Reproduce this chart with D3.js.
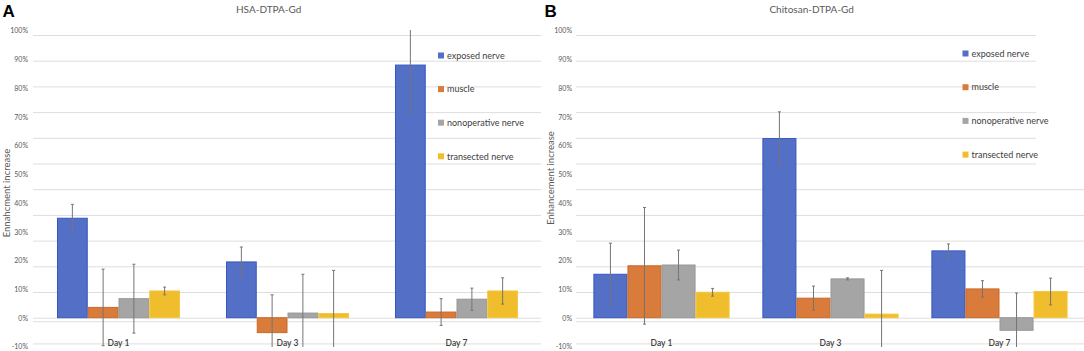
<!DOCTYPE html>
<html>
<head>
<meta charset="utf-8">
<script src="https://cdn.jsdelivr.net/npm/d3@7"></script>
<style>
  body { margin: 0; background: #fff; }
  svg { display: block; }
</style>
</head>
<body>
<svg id="chart"></svg>
<script>
// categories + series
const days = ["Day 1", "Day 3", "Day 7"];
const groups = ["exposed nerve", "muscle", "nonoperative nerve", "transected nerve"];
const colors = ["#5470c6", "#d97b3a", "#a5a5a5", "#f0bd2c"];
const strokes = ["#3557c2", "#c96a2a", "#979797", "#f4c640"];

// tick labels (pasted label column) and gridline values of the Excel plot
const labelTicks = [-10, 0, 10, 20, 30, 40, 50, 60, 70, 80, 90, 100];
const gridTicks = [-10, 0, 10, 20, 30, 40, 50, 60, 70, 80, 90, 100, 110];

// A: HSA-DTPA-Gd (mean %, error %)
const hsaExposed = [38.7, 21.7, 98.3];
const hsaExposedErr = [5.4, 5.8, 18.8];
const hsaMuscle = [4.0, -5.8, 2.2];
const hsaMuscleErr = [14.9, 14.7, 5.2];
const hsaNonop = [7.4, 1.8, 7.2];
const hsaNonopErr = [13.4, 15.1, 4.3];
const hsaTransected = [10.4, 1.6, 10.4];
const hsaTransectedErr = [1.5, 16.8, 5.1];

// B: Chitosan-DTPA-Gd
const chiExposed = [16.9, 69.7, 26.0];
const chiExposedErr = [12.1, 10.4, 2.7];
const chiMuscle = [20.2, 7.6, 11.2];
const chiMuscleErr = [22.7, 4.7, 3.2];
const chiNonop = [20.5, 15.1, -4.9];
const chiNonopErr = [5.8, 0.4, 14.5];
const chiTransected = [9.9, 1.4, 10.2];
const chiTransectedErr = [1.5, 17.0, 5.2];

function buildRows(means, errs) {
  let rows = [];
  days.forEach((day, i) => {
    groups.forEach((g, j) => {
      rows.push({ day: day, group: g, gi: j, value: means[j][i], err: errs[j][i] });
    });
  });
  return rows;
}

const svg = d3.select("#chart").attr("width", 1084).attr("height", 351);

class BarPanel {
  constructor(_config, _data) {
    this.config = {
      id: _config.id,
      letter: _config.letter,
      letterX: _config.letterX,
      title: _config.title,
      titleX: _config.titleX,
      yTitle: _config.yTitle,
      yTitleX: _config.yTitleX,
      yTitleY: _config.yTitleY,
      labelX: _config.labelX,
      left: _config.left,
      right: _config.right,
      paddingInner: _config.paddingInner,
      legendX: _config.legendX,
      legendY: _config.legendY,
      legendStep: _config.legendStep,
      gridStop: _config.gridStop || null
    };
    this.data = _data;
    this.initVis();
  }

  initVis() {
    let vis = this;
    vis.g = svg.append("g").attr("class", "panel");

    // bars / gridlines live on the Excel scale, labels on the pasted label column
    vis.y = d3.scaleLinear().domain([0, 110]).range([317.7, 35]);
    vis.yLab = d3.scaleLinear().domain([-10, 100]).range([346.7, 30.7]);

    vis.x0 = d3.scaleBand()
      .domain(days)
      .range([vis.config.left, vis.config.right])
      .paddingInner(vis.config.paddingInner)
      .paddingOuter(vis.config.paddingInner / 2);

    vis.x1 = d3.scaleBand()
      .domain(groups)
      .range([0, vis.x0.bandwidth()]);

    vis.g.append("defs").append("clipPath")
      .attr("id", "clip-" + vis.config.id)
      .append("rect")
      .attr("x", vis.config.left - 2)
      .attr("y", 30)
      .attr("width", vis.config.right - vis.config.left + 4)
      .attr("height", 317);

    vis.updateVis();
  }

  updateVis() {
    let vis = this;

    // gridlines
    vis.g.append("g")
      .attr("class", "axis-grid")
      .attr("transform", `translate(${vis.config.left - 1},0)`)
      .call(d3.axisLeft(vis.y).tickValues(gridTicks).tickSize(-(vis.config.right - vis.config.left + 1)).tickFormat(""))
      .call(g => g.select(".domain").remove())
      .call(g => g.selectAll("line").attr("stroke", "#dedede").attr("stroke-width", 1));

    // in B the top gridlines stop short of the right edge
    if (vis.config.gridStop) {
      vis.g.append("rect")
        .attr("x", vis.config.gridStop)
        .attr("y", 28)
        .attr("width", vis.config.right - vis.config.gridStop)
        .attr("height", 144)
        .attr("fill", "#fff");
    }

    // horizontal axis line sits just under the zero gridline
    vis.g.append("line")
      .attr("x1", vis.config.left - 1)
      .attr("x2", vis.config.right)
      .attr("y1", vis.y(0) + 4)
      .attr("y2", vis.y(0) + 4)
      .attr("stroke", "#dedede")
      .attr("stroke-width", 1);

    // tick labels
    vis.g.append("g")
      .attr("class", "axis y-axis")
      .attr("transform", `translate(${vis.config.labelX},0)`)
      .call(d3.axisLeft(vis.yLab).tickValues(labelTicks).tickSize(0).tickPadding(0).tickFormat(d => d + "%"))
      .call(g => g.select(".domain").remove())
      .call(g => g.selectAll("text")
        .attr("fill", "#595959")
        .style("font-family", "Lato, 'Open Sans', sans-serif")
        .style("font-size", "7px"));

    let plot = vis.g.append("g").attr("clip-path", `url(#clip-${vis.config.id})`);

    plot.selectAll(".bar")
      .data(vis.data)
      .join("rect")
      .attr("class", "bar")
      .attr("x", d => vis.x0(d.day) + vis.x1(d.group) + 0.5)
      .attr("width", vis.x1.bandwidth() - 1)
      .attr("y", d => vis.y(Math.max(0, d.value)))
      .attr("height", d => Math.abs(vis.y(d.value) - vis.y(0)))
      .attr("fill", d => colors[d.gi])
      .attr("stroke", d => strokes[d.gi])
      .attr("stroke-width", 1);

    // error bars
    let eb = plot.selectAll(".err")
      .data(vis.data)
      .join("g")
      .attr("class", "err")
      .attr("transform", d => `translate(${vis.x0(d.day) + vis.x1(d.group) + vis.x1.bandwidth() / 2},0)`);

    eb.append("line")
      .attr("y1", d => vis.y(d.value + d.err))
      .attr("y2", d => vis.y(d.value - d.err))
      .attr("stroke", "#757575")
      .attr("stroke-width", 1);

    eb.append("line")
      .attr("x1", -1.5).attr("x2", 1.5)
      .attr("y1", d => vis.y(d.value + d.err))
      .attr("y2", d => vis.y(d.value + d.err))
      .attr("stroke", "#757575");

    eb.append("line")
      .attr("x1", -1.5).attr("x2", 1.5)
      .attr("y1", d => vis.y(d.value - d.err))
      .attr("y2", d => vis.y(d.value - d.err))
      .attr("stroke", "#757575");

    // category labels
    vis.g.selectAll(".day-label")
      .data(days)
      .join("text")
      .attr("class", "day-label")
      .attr("x", d => vis.x0(d) + vis.x0.bandwidth() / 2)
      .attr("y", 346)
      .attr("text-anchor", "middle")
      .attr("fill", "#404040")
      .style("font-family", "Lato, sans-serif")
      .style("font-weight", "600")
      .style("font-size", "8.5px")
      .text(d => d);

    // legend
    let leg = vis.g.selectAll(".legend")
      .data(groups)
      .join("g")
      .attr("class", "legend")
      .attr("transform", (d, i) => `translate(${vis.config.legendX},${vis.config.legendY + i * vis.config.legendStep})`);

    leg.append("rect")
      .attr("x", 0).attr("y", -3)
      .attr("width", 6).attr("height", 6)
      .attr("fill", (d, i) => colors[i]);

    leg.append("text")
      .attr("x", 9)
      .attr("y", 3.2)
      .attr("fill", "#404040")
      .style("font-family", "Lato, sans-serif")
      .style("font-size", "9px")
      .text(d => d);

    // title, axis title, panel letter
    vis.g.append("text")
      .attr("x", vis.config.titleX)
      .attr("y", 13)
      .attr("text-anchor", "middle")
      .attr("fill", "#595959")
      .style("font-family", "Lato, sans-serif")
      .style("font-size", "10px")
      .text(vis.config.title);

    vis.g.append("text")
      .attr("transform", `translate(${vis.config.yTitleX},${vis.config.yTitleY}) rotate(-90)`)
      .attr("text-anchor", "middle")
      .attr("fill", "#595959")
      .style("font-family", "Lato, sans-serif")
      .style("font-size", "9.5px")
      .text(vis.config.yTitle);

    vis.g.append("text")
      .attr("x", vis.config.letterX)
      .attr("y", 17)
      .attr("fill", "#000")
      .style("font-family", "'Liberation Sans', Arial, sans-serif")
      .style("font-weight", "bold")
      .style("font-size", "17px")
      .text(vis.config.letter);
  }
}

new BarPanel({
  id: "a", letter: "A", letterX: 2.5,
  title: "HSA-DTPA-Gd", titleX: 268.7,
  yTitle: "Ennahcment increase", yTitleX: 9.5, yTitleY: 193,
  labelX: 28, left: 34, right: 541, paddingInner: 0.272,
  legendX: 438, legendY: 55.5, legendStep: 33.6
}, buildRows([hsaExposed, hsaMuscle, hsaNonop, hsaTransected],
             [hsaExposedErr, hsaMuscleErr, hsaNonopErr, hsaTransectedErr]));

new BarPanel({
  id: "b", letter: "B", letterX: 544.5,
  title: "Chitosan-DTPA-Gd", titleX: 811.7,
  yTitle: "Enhancement increase", yTitleX: 554, yTitleY: 178,
  labelX: 572, left: 577, right: 1084, paddingInner: 0.194,
  legendX: 962.5, legendY: 53.5, legendStep: 33.7,
  gridStop: 1036
}, buildRows([chiExposed, chiMuscle, chiNonop, chiTransected],
             [chiExposedErr, chiMuscleErr, chiNonopErr, chiTransectedErr]));
</script>
</body>
</html>
